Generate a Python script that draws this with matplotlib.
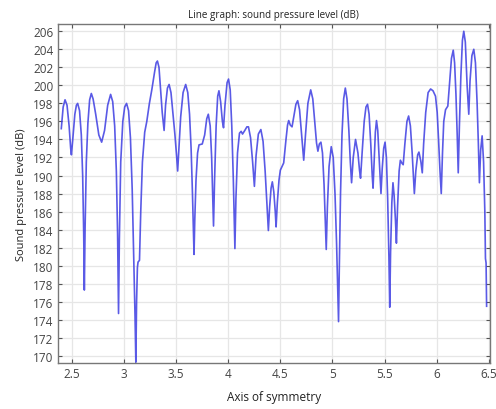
import matplotlib
matplotlib.use("Agg")
import matplotlib.pyplot as plt
import numpy as np

# points (axis of symmetry, dB)
x_pos = [2.400, 2.418, 2.436, 2.455, 2.475, 2.490, 2.497, 2.510, 2.530, 2.545, 2.557,
         2.575, 2.592, 2.605, 2.615, 2.621, 2.628, 2.640, 2.655, 2.672, 2.688,
         2.705, 2.730, 2.760, 2.787, 2.815, 2.845, 2.873, 2.893, 2.912, 2.928, 2.940,
         2.949, 2.957, 2.970, 2.990, 3.008, 3.026, 3.045, 3.063, 3.080, 3.095, 3.107,
         3.115, 3.122, 3.130, 3.136, 3.150, 3.162, 3.178, 3.200, 3.220, 3.245, 3.268,
         3.295, 3.310, 3.322, 3.337, 3.352, 3.368, 3.386, 3.400, 3.418, 3.434, 3.452,
         3.470, 3.490, 3.505, 3.516, 3.528, 3.545, 3.568, 3.593, 3.613, 3.630, 3.645,
         3.658, 3.668, 3.673, 3.680, 3.692, 3.707, 3.721, 3.752, 3.775, 3.795, 3.810,
         3.828, 3.842, 3.852, 3.860, 3.870, 3.885, 3.900, 3.912, 3.928, 3.945, 3.956,
         3.970, 3.990, 4.004, 4.020, 4.035, 4.050, 4.060, 4.065, 4.075, 4.090, 4.109,
         4.125, 4.138, 4.160, 4.180, 4.195, 4.215, 4.235, 4.252, 4.268, 4.290, 4.314,
         4.335, 4.355, 4.372, 4.386, 4.398, 4.412, 4.424, 4.438, 4.452, 4.460, 4.472,
         4.488, 4.501, 4.533, 4.555, 4.570, 4.581, 4.596, 4.613, 4.632, 4.650, 4.667,
         4.685, 4.705, 4.725, 4.742, 4.765, 4.792, 4.812, 4.830, 4.848, 4.861, 4.875,
         4.890, 4.905, 4.920, 4.932, 4.941, 4.952, 4.968, 4.989, 5.008, 5.025, 5.040,
         5.052, 5.059, 5.066, 5.078, 5.092, 5.108, 5.124, 5.140, 5.158, 5.172, 5.184,
         5.200, 5.222, 5.245, 5.260, 5.270, 5.285, 5.305, 5.322, 5.337, 5.352, 5.368,
         5.382, 5.390, 5.400, 5.412, 5.423, 5.435, 5.450, 5.466, 5.478, 5.492, 5.505,
         5.518, 5.530, 5.542, 5.550, 5.558, 5.570, 5.581, 5.592, 5.605, 5.614, 5.625,
         5.640, 5.652, 5.665, 5.679, 5.695, 5.715, 5.731, 5.748, 5.765, 5.778, 5.786,
         5.800, 5.818, 5.830, 5.848, 5.862, 5.875, 5.895, 5.918, 5.942, 5.965, 5.989,
         6.005, 6.018, 6.032, 6.044, 6.056, 6.068, 6.085, 6.107, 6.125, 6.142, 6.159,
         6.172, 6.185, 6.197, 6.207, 6.218, 6.232, 6.247, 6.260, 6.275, 6.292, 6.308,
         6.320, 6.338, 6.356, 6.372, 6.388, 6.400, 6.410, 6.422, 6.436, 6.450, 6.462,
         6.468, 6.474, 6.479]
spl_db = [195.2, 197.6, 198.4, 197.8, 195.5, 193.0, 192.3, 194.0, 196.8, 197.8, 198.0,
          197.2, 194.5, 190.0, 183.5, 177.3, 184.0, 191.5, 195.8, 198.4, 199.1,
          198.5, 196.8, 194.5, 193.7, 195.0, 197.8, 199.0, 198.2, 195.5, 190.5, 183.5,
          174.7, 183.0, 191.5, 196.0, 197.6, 198.0, 197.2, 194.2, 188.5, 181.0, 174.5,
          169.3, 176.0, 179.8, 180.4, 180.6, 186.0, 191.5, 194.8, 196.0, 198.0, 199.5,
          201.5, 202.5, 202.7, 202.0, 199.5, 197.0, 195.0, 197.8, 199.7, 200.1, 199.2,
          197.0, 194.5, 192.3, 190.5, 193.0, 196.5, 199.2, 200.1, 199.2, 196.8, 193.0,
          188.0, 183.5, 181.25, 185.0, 189.5, 192.5, 193.4, 193.5, 194.5, 196.3, 196.8,
          195.5, 192.0, 188.0, 184.4, 189.5, 195.5, 198.8, 199.4, 198.2, 196.0, 195.3,
          197.8, 200.3, 200.7, 199.5, 195.5, 189.5, 184.5, 181.9, 187.5, 192.5, 194.7,
          194.9, 194.6, 195.0, 195.4, 195.4, 194.2, 191.5, 188.8, 192.2, 194.6, 195.1,
          193.8, 190.5, 187.0, 183.9, 186.5, 188.6, 189.3, 188.2, 186.0, 184.3, 187.0,
          189.5, 190.6, 191.4, 194.0, 195.6, 196.1, 195.6, 195.4, 196.7, 197.9, 198.3,
          197.3, 194.5, 191.7, 194.5, 198.0, 199.5, 198.5, 196.0, 193.6, 192.7, 193.5,
          193.7, 192.5, 189.0, 185.0, 181.8, 186.5, 191.0, 193.2, 192.0, 188.0, 182.5,
          177.0, 173.8, 179.5, 188.0, 194.5, 198.5, 199.7, 198.5, 195.0, 191.5, 189.2,
          192.0, 194.0, 192.5, 190.6, 189.7, 192.5, 196.0, 197.6, 197.9, 196.8, 193.5,
          190.0, 188.6, 191.5, 194.8, 196.1, 195.0, 191.5, 188.0, 190.8, 193.0, 193.7,
          192.0, 187.5, 181.0, 175.4, 181.5, 187.0, 189.2, 187.8, 185.0, 182.5, 186.5,
          190.5, 191.7, 191.4, 191.2, 193.5, 196.0, 196.6, 195.5, 192.5, 189.8, 188.0,
          190.5, 192.3, 192.6, 191.6, 190.3, 193.5, 197.0, 199.2, 199.6, 199.4, 198.8,
          197.0, 194.0, 190.5, 188.0, 192.5, 196.0, 197.3, 197.7, 200.5, 203.0, 203.9,
          202.5, 199.0, 194.5, 190.3, 195.5, 201.0, 205.0, 206.0, 204.8, 200.0, 196.8,
          200.5, 203.3, 204.0, 202.5, 198.0, 193.5, 189.2, 192.8, 194.4, 191.5, 186.0,
          180.8, 180.3, 175.5]

x_ticks = [2.5, 3, 3.5, 4, 4.5, 5, 5.5, 6, 6.5]
x_tick_labels = ["2.5", "3", "3.5", "4", "4.5", "5", "5.5", "6", "6.5"]
y_ticks = list(range(170, 207, 2))

plt.rcParams['font.family'] = ['Open Sans', 'DejaVu Sans']

fig = plt.figure(figsize=(4.96, 4.10), dpi=100)
ax = fig.add_axes([0.116, 0.112, 0.872, 0.828])

ax.plot(x_pos, spl_db, color="#3d3de2", linewidth=1.2, alpha=0.85)

ax.set_xlim(2.364, 6.512)
ax.set_ylim(169.2, 206.85)
ax.set_xticks(x_ticks)
ax.set_xticklabels(x_tick_labels)
ax.set_yticks(y_ticks)

ax.grid(True, color="#e6e6e6", linewidth=0.9)
ax.set_axisbelow(True)
ax.tick_params(direction="in", top=True, right=True, length=3, width=0.8,
               colors="#555555", labelsize=8.5, labelcolor="#444444", pad=3)
for s in ax.spines.values():
    s.set_color("#777777")
    s.set_linewidth(1.0)

ax.set_title("Line graph: sound pressure level (dB)", fontsize=7.1, color="#222222", pad=5)
ax.set_xlabel("Axis of symmetry", fontsize=8.5, color="#222222", labelpad=7)
ax.set_ylabel("Sound pressure level (dB)", fontsize=8, color="#222222", labelpad=4)

fig.savefig("out.png", dpi=100)
